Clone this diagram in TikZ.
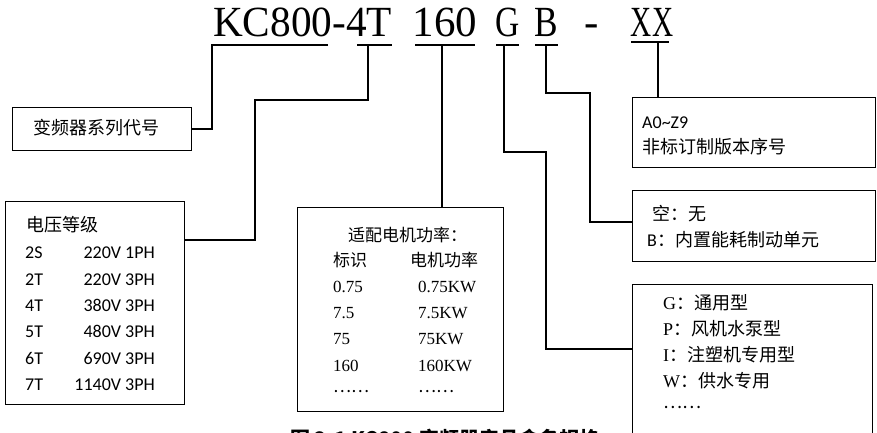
\documentclass[tikz,border=0pt]{standalone}
\usepackage{fontspec}
\setmainfont{Liberation Serif}
\newfontfamily\cjk{Noto Sans CJK SC}
\newfontfamily\calib{Carlito}
\tikzset{
    box/.style={draw, line width=1.2pt, anchor=north west, inner sep=0},
    conn/.style={line width=1.6pt},
    zh/.style={anchor=west, inner sep=0, font=\cjk\fontsize{18}{20}\selectfont},
    lat/.style={anchor=west, inner sep=0, font=\calib\fontsize{18}{20}\selectfont},
    num/.style={anchor=west, inner sep=0, font=\fontsize{17}{19}\selectfont},
    code/.style={anchor=base, inner sep=0, font=\fontsize{43}{45}\selectfont},
}
\begin{document}
\begin{tikzpicture}[x=1pt, y=-1pt]
    \useasboundingbox (0, 0) rectangle (877, 433);
    % model code
    \node[code] (kc) at (302.5, 37) {\scalebox{0.96}[1]{KC800-4T}};
    \node[code] (kw) at (445, 37) {160};
    \node[code] (ty) at (507.5, 37) {\scalebox{0.78}[1]{G}};
    \node[code] (bu) at (546.5, 37) {\scalebox{0.82}[1]{B}};
    \node[code] (dh) at (592, 37) {-};
    \node[code] (xx) at (652, 37) {\scalebox{0.68}[1]{XX}};
    % boxes
    \node[box, minimum width=179, minimum height=43] (ser) at (12, 107) {};
    \node[zh] at (33, 128) {变频器系列代号};
    \node[box, minimum width=179, minimum height=203] (vol) at (5, 201) {};
    \node[zh] at (26, 225) {电压等级};
    \foreach \c/\v [count=\i from 0] in {2S/220V 1PH, 2T/220V 3PH, 4T/380V 3PH,
        5T/480V 3PH, 6T/690V 3PH, 7T/1140V 3PH} {
        \node[lat] at (25, 253 + 26.3*\i) {\c};
        \node[lat, anchor=east] at (155, 253 + 26.3*\i) {\v};
    }
    \node[box, minimum width=206, minimum height=204] (pow) at (297, 207) {};
    \node[zh, font=\cjk\fontsize{17}{19}\selectfont] at (348, 235) {适配电机功率：};
    \node[zh, font=\cjk\fontsize{17}{19}\selectfont] at (333, 260) {标识};
    \node[zh, font=\cjk\fontsize{17}{19}\selectfont] at (410, 260) {电机功率};
    \foreach \a/\b [count=\i from 0] in {0.75/0.75KW, 7.5/7.5KW, 75/75KW, 160/160KW} {
        \node[num] at (333, 287 + 26.2*\i) {\a};
        \node[num] at (418, 287 + 26.2*\i) {\b};
    }
    \node[zh, font=\cjk\fontsize{17}{19}\selectfont] at (333, 392) {……};
    \node[zh, font=\cjk\fontsize{17}{19}\selectfont] at (418, 392) {……};
    \node[box, minimum width=243, minimum height=70] (ver) at (632, 97) {};
    \node[lat] at (642, 123) {A0\textasciitilde Z9};
    \node[zh] at (642, 147) {非标订制版本序号};
    \node[box, minimum width=243, minimum height=71] (brk) at (632, 190) {};
    \node[zh] at (652, 214) {空：无};
    \node[zh] at (647, 240) {{\calib B}：内置能耗制动单元};
    \node[box, minimum width=240, minimum height=170] (app) at (632, 284) {};
    \foreach \k/\t [count=\i from 0] in {G/通用型, P/风机水泵型, I/注塑机专用型, W/供水专用} {
        \node[zh] at (663, 303 + 25.8*\i) {{\rmfamily \k}：\t};
    }
    \node[zh] at (663, 407) {……};
    % connectors
    \coordinate (kcl) at (212, 45);
    \coordinate (kcr) at (328, 45);
    \draw[conn] (kcr) -- (kcl) |- (ser.east);
    \coordinate (vl) at (357, 45);
    \coordinate (vr) at (392, 45);
    \coordinate (vm) at (368, 45);
    \draw[conn] (vl) -- (vr);
    \draw[conn] (vm) |- (255, 100) |- (vol.east |- 0, 240);
    \coordinate (pl) at (415, 45);
    \coordinate (pr) at (475, 45);
    \coordinate (pm) at (442, 45);
    \draw[conn] (pl) -- (pr);
    \draw[conn] (pm) -- (pm |- pow.north);
    \coordinate (gl) at (496, 45);
    \coordinate (gr) at (519, 45);
    \coordinate (gm) at (504, 45);
    \draw[conn] (gl) -- (gr);
    \draw[conn] (gm) |- (546, 152) |- (app.west |- 0, 349);
    \coordinate (bl) at (535, 45);
    \coordinate (br) at (558, 45);
    \coordinate (bm) at (546, 45);
    \draw[conn] (bl) -- (br);
    \draw[conn] (bm) |- (590, 93) |- (brk.west |- 0, 222);
    \coordinate (xl) at (631, 42);
    \coordinate (xr) at (669, 42);
    \coordinate (xm) at (658, 42);
    \draw[conn] (xl) -- (xr);
    \draw[conn] (xm) -- (xm |- ver.north);
    % caption
    \node[anchor=base west, inner sep=0, font=\cjk\bfseries\fontsize{20}{22}\selectfont]
        (cap) at (290, 446) {图 2-1 KC800 变频器产品命名规格};
\end{tikzpicture}
\end{document}
